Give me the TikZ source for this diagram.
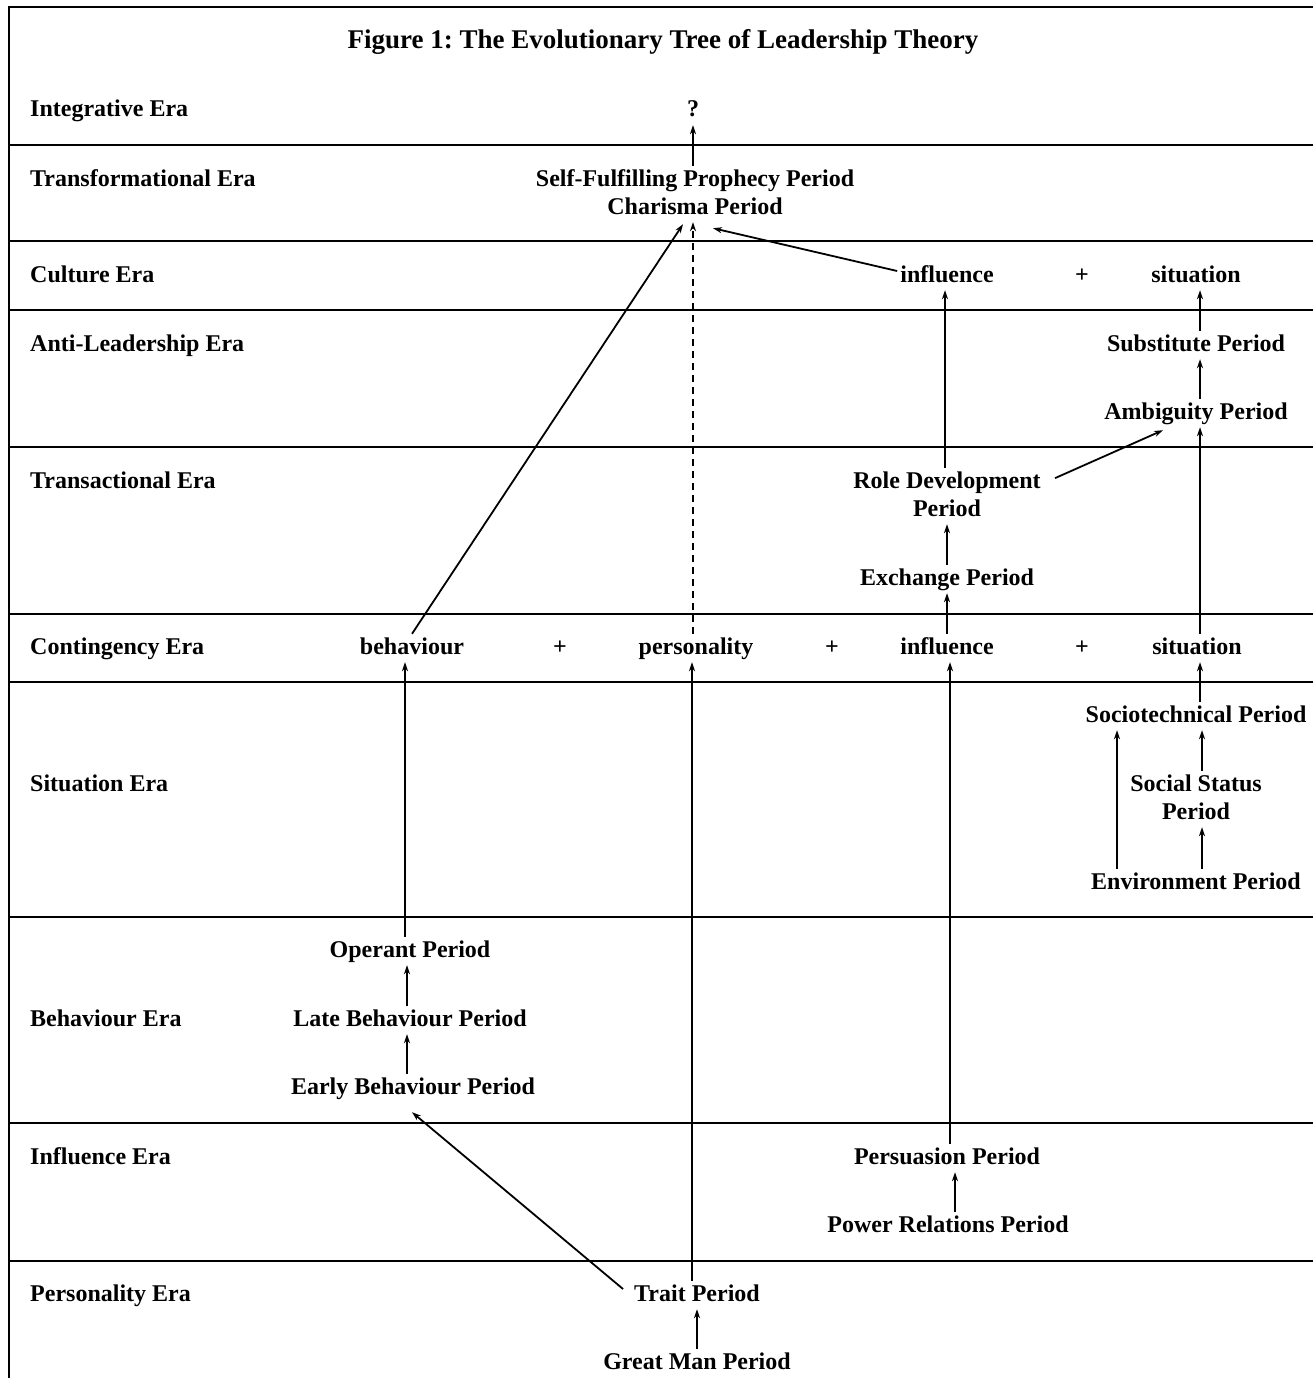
\documentclass[tikz,border=0pt]{standalone}
\usepackage{fontspec}
\setmainfont{Liberation Serif}
\usetikzlibrary{arrows.meta}
\frenchspacing
\begin{document}
\begin{tikzpicture}[x=1pt,y=-1pt,
  lbl/.style={font=\fontsize{24}{28}\selectfont\bfseries, anchor=base, inner sep=3pt, text height=17pt, text depth=5pt},
  era/.style={lbl, anchor=base west, inner sep=0pt},
  twoline/.style={font=\fontsize{24}{28}\selectfont\bfseries, anchor=base, align=center, inner sep=3pt, text depth=5pt},
  ttl/.style={font=\fontsize{27}{32}\selectfont\bfseries, anchor=base, inner sep=0pt},
  rule/.style={line width=2.8pt},
  arr/.style={line width=1.8pt, -{Stealth[length=9pt,width=6pt]}},
  dasharr/.style={arr, dash pattern=on 7pt off 5pt}]
\useasboundingbox (0,0) rectangle (1313,1378);
% frame and era rules
\draw[rule] (9,1378) -- (9,7) -- (1313,7);
\foreach \yy in {145,241,310,447,614,682,917,1123,1261}
  \draw[rule] (9,\yy) -- (1313,\yy);
% title
\node[ttl] (title) at (663,49) {Figure 1: The Evolutionary Tree of Leadership Theory};
% era labels
\node[era] (eInt) at (30,117) {Integrative Era};
\node[era] (eTrf) at (30,186) {Transformational Era};
\node[era] (eCul) at (30,282) {Culture Era};
\node[era] (eAnt) at (30,351) {Anti-Leadership Era};
\node[era] (eTra) at (30,488) {Transactional Era};
\node[era] (eCon) at (30,654) {Contingency Era};
\node[era] (eSit) at (30,791) {Situation Era};
\node[era] (eBeh) at (30,1026) {Behaviour Era};
\node[era] (eInf) at (30,1164) {Influence Era};
\node[era] (ePer) at (30,1301) {Personality Era};
% periods
\node[lbl] (q) at (693,117) {?};
\node[lbl] (sfp) at (695,186) {Self-Fulfilling Prophecy Period};
\node[lbl] (cha) at (695,214) {Charisma Period};
\node[lbl] (cinf) at (947,282) {influence};
\node[lbl] (cplus) at (1082,282) {+};
\node[lbl] (csit) at (1196,282) {situation};
\node[lbl] (sub) at (1196,351) {Substitute Period};
\node[lbl] (amb) at (1196,419) {Ambiguity Period};
\node[twoline] (rd) at (947,516) {Role Development\\Period};
\node[lbl] (ex) at (947,585) {Exchange Period};
\node[lbl] (beh) at (412,654) {behaviour};
\node[lbl] (p1) at (560,654) {+};
\node[lbl] (pers) at (696,654) {personality};
\node[lbl] (p2) at (832,654) {+};
\node[lbl] (inf) at (947,654) {influence};
\node[lbl] (p3) at (1082,654) {+};
\node[lbl] (sit) at (1197,654) {situation};
\node[lbl] (soc) at (1196,722) {Sociotechnical Period};
\node[twoline] (ss) at (1196,819) {Social Status\\Period};
\node[lbl] (env) at (1196,889) {Environment Period};
\node[lbl] (op) at (410,957) {Operant Period};
\node[lbl] (late) at (410,1026) {Late Behaviour Period};
\node[lbl] (early) at (413,1094) {Early Behaviour Period};
\node[lbl] (pers2) at (947,1164) {Persuasion Period};
\node[lbl] (pow) at (948,1232) {Power Relations Period};
\node[lbl] (trait) at (697,1301) {Trait Period};
\node[lbl] (gm) at (697,1369) {Great Man Period};
% connectors
\draw[arr] (sfp.north -| q) -- (q.south);
\draw[dasharr] (pers.north -| q) -- (cha.south -| q);
\draw[arr] (beh.north) -- ([xshift=-12pt,yshift=-2pt]cha.south);
\draw[arr] ([yshift=5pt]cinf.west) -- ([xshift=18pt,yshift=-6pt]cha.south);
\draw[arr] ([xshift=-2pt]rd.north) -- ([xshift=-2pt]cinf.south);
\draw[arr] ([xshift=108pt,yshift=-10pt]rd.north) -- ([xshift=-33pt,yshift=-3pt]amb.south);
\draw[arr] (ex.north) -- (ex.north |- rd.south);
\draw[arr] (inf.north) -- (ex.south);
\draw[arr] ([xshift=3pt]sit.north) -- ([xshift=4pt]amb.south);
\draw[arr] ([xshift=4pt]amb.north) -- ([xshift=4pt]sub.south);
\draw[arr] ([xshift=4pt]sub.north) -- ([xshift=4pt]csit.south);
\draw[arr] ([xshift=4pt]soc.north) -- ([xshift=3pt]sit.south);
\draw[arr] ([xshift=6pt]ss.north) -- ([xshift=6pt]soc.south);
\draw[arr] ([xshift=6pt]env.north) -- ([xshift=6pt]ss.south);
\draw[arr] ([xshift=-79pt]env.north) -- ([xshift=-79pt]soc.south);
\draw[arr] ([xshift=-5pt]op.north) -- ([xshift=-7pt]beh.south);
\draw[arr] ([xshift=-3pt]late.north) -- ([xshift=-3pt]op.south);
\draw[arr] ([xshift=-6pt]early.north) -- ([xshift=-3pt]late.south);
\draw[arr] ([xshift=-8pt,yshift=6pt]trait.west) -- ([xshift=-1pt,yshift=-10pt]early.south);
\draw[arr] ([xshift=-5pt]trait.north) -- ([xshift=-4pt]pers.south);
\draw[arr] ([xshift=3pt]pers2.north) -- ([xshift=3pt]inf.south);
\draw[arr] ([xshift=7pt]pow.north) -- ([xshift=8pt]pers2.south);
\draw[arr] (gm.north) -- (trait.south);
\end{tikzpicture}
\end{document}
